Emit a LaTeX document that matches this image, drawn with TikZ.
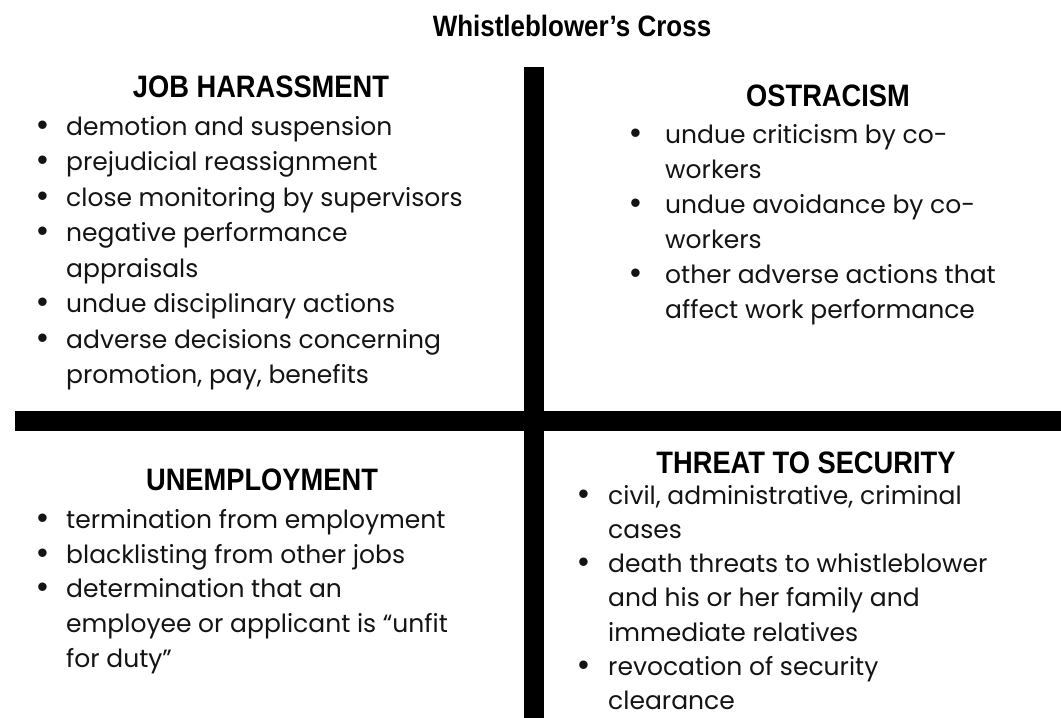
\documentclass[tikz,border=0pt]{standalone}
\usepackage{fontspec}
\setmainfont{Poppins}
\newfontfamily\headfont[FakeStretch=0.88]{Liberation Sans}
\newfontfamily\bulfont{Liberation Sans}
\usetikzlibrary{positioning}

\definecolor{crossInk}{HTML}{141414}

% bullet box of a given width, and matching indent
\newcommand{\bul}[1]{\makebox[#1][l]{\bulfont\fontsize{31}{31}\selectfont\textbullet}}
\newcommand{\ind}[1]{\hspace*{#1}}

\tikzset{
    crossbar/.style={fill=black},
    heading/.style={font=\headfont\bfseries\fontsize{31}{31}\selectfont, inner sep=0pt, anchor=base},
    itemlist/.style={font=\fontsize{25}{#1}\selectfont, text=crossInk, align=left, inner sep=0pt, anchor=north west},
    itemlist/.default=35.5,
}

\begin{document}
\begin{tikzpicture}[x=1pt, y=-1pt]
    \useasboundingbox[fill=white] (0, 0) rectangle (1061, 718);

    % the cross
    \fill[crossbar] (524, 67) rectangle (544, 718);
    \fill[crossbar] (15, 411) rectangle (1061, 431);

    \node[heading, font=\headfont\bfseries\fontsize{29.5}{29.5}\selectfont] (title) at (572, 36) {Whistleblower’s Cross};

    \node[heading] (harass) at (261, 97) {JOB HARASSMENT};
    \node[heading] (ostra) at (828, 106) {OSTRACISM};
    \node[heading] (unemp) at (262, 490) {UNEMPLOYMENT};
    \node[heading] (threat) at (806, 473) {THREAT TO SECURITY};

    \node[itemlist] (harassList) at (37, 116) {\bul{29pt}demotion and suspension\\
        \bul{29pt}prejudicial reassignment\\
        \bul{29pt}close monitoring by supervisors\\
        \bul{29pt}negative performance\\
        \ind{29pt}appraisals\\
        \bul{29pt}undue disciplinary actions\\
        \bul{29pt}adverse decisions concerning\\
        \ind{29pt}promotion, pay, benefits};

    \node[itemlist=35] (ostraList) at (630, 124) {\bul{35pt}undue criticism by co-\\
        \ind{35pt}workers\\
        \bul{35pt}undue avoidance by co-\\
        \ind{35pt}workers\\
        \bul{35pt}other adverse actions that\\
        \ind{35pt}affect work performance};

    \node[itemlist=34.8] (unempList) at (37, 509) {\bul{29pt}termination from employment\\
        \bul{29pt}blacklisting from other jobs\\
        \bul{29pt}determination that an\\
        \ind{29pt}employee or applicant is “unfit\\
        \ind{29pt}for duty”};

    \node[itemlist=34.2] (threatList) at (578, 485) {\bul{30pt}civil, administrative, criminal\\
        \ind{30pt}cases\\
        \bul{30pt}death threats to whistleblower\\
        \ind{30pt}and his or her family and\\
        \ind{30pt}immediate relatives\\
        \bul{30pt}revocation of security\\
        \ind{30pt}clearance};
\end{tikzpicture}
\end{document}
